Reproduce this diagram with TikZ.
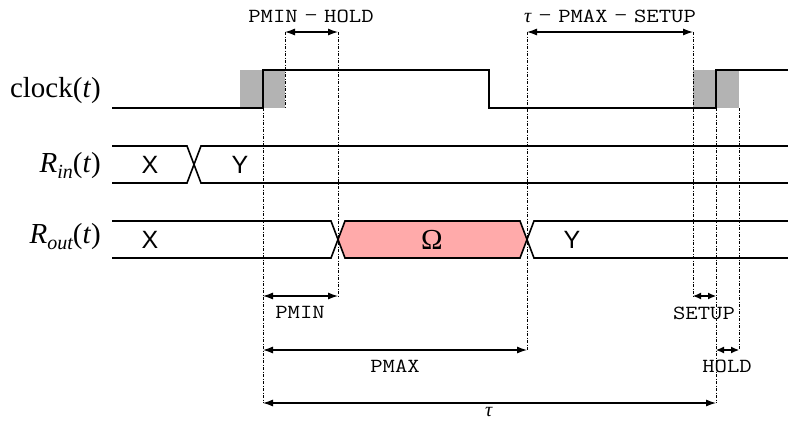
\documentclass[tikz,border=0pt]{standalone}
\usepackage{fontspec}
\setmainfont{Liberation Serif}
\setmonofont{Latin Modern Mono}[FakeStretch=1.2]
\newfontfamily\sigsans{Liberation Sans}
\usetikzlibrary{arrows.meta}
\definecolor{omegapink}{RGB}{255,170,170}
\definecolor{windowgray}{RGB}{179,179,179}
\tikzset{
  sigline/.style={line width=1.6pt, line join=miter},
  clkline/.style={line width=2.2pt, line join=miter},
  guide/.style={line width=0.75pt, dash pattern=on 3pt off 1.5pt on 1pt off 1.5pt},
  dimarrow/.style={line width=1.1pt, {Latex[length=10pt,width=7pt]}-{Latex[length=10pt,width=7pt]}},
  shortarrow/.style={line width=1.1pt, {Latex[length=8pt,width=7pt]}-{Latex[length=8pt,width=7pt]}},
  rowlabel/.style={font=\fontsize{29}{30}\selectfont, anchor=base east, inner sep=0pt},
  monolabel/.style={font=\fontsize{20}{22}\selectfont, inner sep=0pt},
  sigvalue/.style={font=\sigsans\fontsize{25}{25}\selectfont, inner sep=0pt},
}
\newcommand{\mt}[1]{{\ttfamily #1}}
\newcommand{\bminus}{\hspace{7pt}{\fontsize{22}{22}\selectfont −}\hspace{7pt}}
\begin{document}
\begin{tikzpicture}[x=1pt,y=-1pt]
\useasboundingbox (0,0) rectangle (788,421);

% setup/hold windows
\fill[windowgray] (240,70) rectangle (285,108);
\fill[windowgray] (693,70) rectangle (739,108);

% guide lines
\draw[guide] (263,108) -- (263,403);
\draw[guide] (285,32) -- (285,108);
\draw[guide] (338,32) -- (338,296);
\draw[guide] (527,32) -- (527,350);
\draw[guide] (693,32) -- (693,296);
\draw[guide] (716,108) -- (716,403);
\draw[guide] (739,108) -- (739,350);

% clock
\draw[clkline] (112,108) -- (263,108) -- (263,70) -- (489,70) -- (489,108) -- (716,108) -- (716,70) -- (788,70);

% R_in
\draw[sigline] (112,146) -- (187,146) -- (201,183) -- (788,183);
\draw[sigline] (112,183) -- (187,183) -- (201,146) -- (788,146);

% R_out
\fill[omegapink] (338,239.5) -- (345,221) -- (520,221) -- (527,239.5) -- (520,258) -- (345,258) -- cycle;
\draw[sigline] (112,221) -- (331,221) -- (345,258) -- (520,258) -- (534,221) -- (788,221);
\draw[sigline] (112,258) -- (331,258) -- (345,221) -- (520,221) -- (534,258) -- (788,258);

% row labels
\node[rowlabel] (lclk) at (101,97) {clock(\textit{t})};
\node[rowlabel] (lrin) at (101,172) {\textit{R}\raisebox{-0.22em}{\fontsize{20}{20}\selectfont\itshape in}(\textit{t})};
\node[rowlabel] (lrout) at (101,243) {\textit{R}\raisebox{-0.22em}{\fontsize{20}{20}\selectfont\itshape out}(\textit{t})};

% values
\node[sigvalue] (vx1) at (150,164.5) {X};
\node[sigvalue] (vy1) at (240,164.5) {Y};
\node[sigvalue] (vx2) at (150,239.5) {X};
\node[font=\fontsize{29}{29}\selectfont, inner sep=0pt] (vom) at (432,239.5) {Ω};
\node[sigvalue] (vy2) at (572,239.5) {Y};

% dimension coordinates
\coordinate (a1) at (285,32); \coordinate (a2) at (338,32);
\coordinate (b1) at (527,32); \coordinate (b2) at (693,32);
\coordinate (c1) at (263,296); \coordinate (c2) at (338,296);
\coordinate (d1) at (693,296); \coordinate (d2) at (716,296);
\coordinate (e1) at (263,350); \coordinate (e2) at (527,350);
\coordinate (f1) at (716,350); \coordinate (f2) at (739,350);
\coordinate (g1) at (263,403); \coordinate (g2) at (716,403);

\draw[dimarrow] (a1) -- (a2);
\draw[dimarrow] (b1) -- (b2);
\draw[dimarrow] (c1) -- (c2);
\draw[shortarrow] (d1) -- (d2);
\draw[dimarrow] (e1) -- (e2);
\draw[shortarrow] (f1) -- (f2);
\draw[dimarrow] (g1) -- (g2);

\node[monolabel] (ta) at (311,16) {\mt{PMIN}\bminus\mt{HOLD}};
\node[monolabel] (tb) at (610,16) {\textit{τ}\bminus\mt{PMAX}\bminus\mt{SETUP}};
\node[monolabel] (tc) at (300,312) {\mt{PMIN}};
\node[monolabel] (td) at (704,313) {\mt{SETUP}};
\node[monolabel] (te) at (395,366) {\mt{PMAX}};
\node[monolabel] (tf) at (727,366) {\mt{HOLD}};
\node[monolabel] (tg) at (489,412) {\textit{τ}};
\end{tikzpicture}
\end{document}
